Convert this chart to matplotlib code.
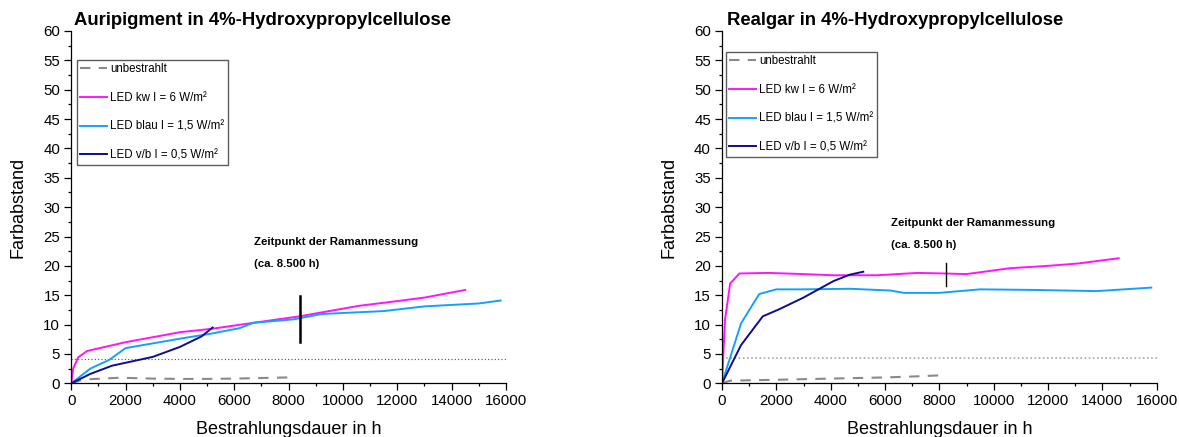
import matplotlib
matplotlib.use("Agg")
import matplotlib.pyplot as plt
from matplotlib.ticker import MultipleLocator

plt.rcParams['font.family'] = ['Liberation Sans', 'DejaVu Sans']

# ---------------- Auripigment ----------------
auri_unbestrahlt_x = [0, 450, 1800, 3000, 4000, 5000, 6000, 7000, 8000]
auri_unbestrahlt_y = [0, 0.65, 0.95, 0.8, 0.75, 0.75, 0.8, 0.9, 1.0]
auri_kw_x = [0, 70, 250, 580, 2000, 4000, 5200, 6700, 8400, 9000, 10600, 12000, 13000, 14500]
auri_kw_y = [0, 2.5, 4.4, 5.5, 7.0, 8.7, 9.3, 10.3, 11.4, 11.9, 13.2, 14.0, 14.6, 15.9]
auri_blau_x = [0, 700, 1400, 2000, 3000, 4000, 5200, 6200, 6700, 8200, 9200, 11500, 13000, 15000, 15800]
auri_blau_y = [0, 2.5, 4.0, 6.0, 6.8, 7.6, 8.5, 9.4, 10.3, 10.9, 11.8, 12.3, 13.1, 13.6, 14.1]
auri_vb_x = [0, 700, 1500, 2200, 3000, 4000, 4800, 5200]
auri_vb_y = [0, 1.6, 3.0, 3.7, 4.5, 6.2, 8.0, 9.5]

# ---------------- Realgar ----------------
real_unbestrahlt_x = [0, 300, 2000, 4000, 6000, 7000, 8000]
real_unbestrahlt_y = [0, 0.45, 0.6, 0.8, 1.0, 1.15, 1.35]
real_kw_x = [0, 110, 300, 640, 1700, 3000, 4100, 5700, 7200, 8200, 9000, 10600, 12000, 13100, 14600]
real_kw_y = [0, 10.8, 17.0, 18.7, 18.8, 18.6, 18.4, 18.4, 18.8, 18.7, 18.6, 19.6, 20.0, 20.4, 21.3]
real_blau_x = [0, 700, 1370, 2000, 3000, 4700, 6200, 6700, 8000, 9500, 11500, 13800, 15800]
real_blau_y = [0, 10.2, 15.2, 16.0, 16.0, 16.1, 15.8, 15.4, 15.4, 16.0, 15.9, 15.7, 16.3]
real_vb_x = [0, 700, 1500, 2100, 3000, 4100, 4700, 5200]
real_vb_y = [0, 6.5, 11.4, 12.6, 14.6, 17.4, 18.5, 19.0]

titles = ["Auripigment in 4%-Hydroxypropylcellulose", "Realgar in 4%-Hydroxypropylcellulose"]
labels = ["unbestrahlt", "LED kw I = 6 W/m²", "LED blau I = 1,5 W/m²", "LED v/b I = 0,5 W/m²"]
threshold = [4.2, 4.3]
raman_x = [8400, 8250]
raman_span = [(7.1, 14.9), (16.6, 20.5)]
raman_text_pos = [(6725, 24.1, 20.3), (6220, 27.3, 23.5)]

C_GREY = '#8a8a8a'
C_KW = '#ff14ff'
C_BLAU = '#14a0ff'
C_VB = '#0d0d8f'

W, H = 1179, 437
fig = plt.figure(figsize=(W / 100, H / 100), dpi=100)

def px_axes(x0, x1, y_top, y_bot):
    return [x0 / W, 1 - y_bot / H, (x1 - x0) / W, (y_bot - y_top) / H]

ax_l = fig.add_axes(px_axes(71.3, 506.0, 31.0, 383.3))
ax_r = fig.add_axes(px_axes(722.0, 1156.7, 31.0, 383.3))

data = [
    (auri_unbestrahlt_x, auri_unbestrahlt_y, auri_kw_x, auri_kw_y, auri_blau_x, auri_blau_y, auri_vb_x, auri_vb_y),
    (real_unbestrahlt_x, real_unbestrahlt_y, real_kw_x, real_kw_y, real_blau_x, real_blau_y, real_vb_x, real_vb_y),
]
dot_style = [dict(color='#505050', lw=0.8, ls=(0, (1, 2))), dict(color='#a8a8a8', lw=1.2, ls=(0, (1, 1.5)))]
raman_lw = [1.8, 1.0]
legend_anchor = [(0.0124, 0.918), (0.0085, 0.941)]
title_px = [(74, 25), (727.3, 25)]

for i, ax in enumerate([ax_l, ax_r]):
    ux, uy, kx, ky, bx, by, vx, vy = data[i]
    ax.axhline(threshold[i], **dot_style[i], zorder=1)
    h0, = ax.plot(ux, uy, color=C_GREY, lw=1.5, ls=(0, (5, 4)), label=labels[0])
    h1, = ax.plot(kx, ky, color=C_KW, lw=1.4, label=labels[1])
    h2, = ax.plot(bx, by, color=C_BLAU, lw=1.4, label=labels[2])
    h3, = ax.plot(vx, vy, color=C_VB, lw=1.4, label=labels[3])
    ax.plot([raman_x[i], raman_x[i]], raman_span[i], color='black', lw=raman_lw[i])
    tx, ty1, ty2 = raman_text_pos[i]
    ax.text(tx, ty1, "Zeitpunkt der Ramanmessung", fontsize=8.2, fontweight='bold', va='center', ha='left')
    ax.text(tx, ty2, "(ca. 8.500 h)", fontsize=8.2, fontweight='bold', va='center', ha='left')

    ax.set_xlim(0, 16000)
    ax.set_ylim(0, 60)
    ax.xaxis.set_major_locator(MultipleLocator(2000))
    ax.xaxis.set_minor_locator(MultipleLocator(1000))
    ax.yaxis.set_major_locator(MultipleLocator(5))
    ax.yaxis.set_minor_locator(MultipleLocator(2.5))
    ax.spines['top'].set_visible(False)
    ax.spines['right'].set_visible(False)
    for s in ('left', 'bottom'):
        ax.spines[s].set_linewidth(0.9)
    ax.tick_params(which='major', direction='out', length=5, width=0.9, labelsize=10.8, pad=3)
    ax.tick_params(which='minor', direction='out', length=2.5, width=0.9)
    ax.set_xlabel("Bestrahlungsdauer in h", fontsize=13, labelpad=9)
    ax.set_ylabel("Farbabstand", fontsize=13, labelpad=12)

    leg = ax.legend(handles=[h0, h1, h2, h3], loc='upper left', bbox_to_anchor=legend_anchor[i],
                    fontsize=8.3, frameon=True, fancybox=False, borderpad=0.3,
                    labelspacing=1.45, handlelength=2.35, handletextpad=0.28, borderaxespad=0)
    leg.get_frame().set_edgecolor('#333333')
    leg.get_frame().set_linewidth(1.0)

    fx, fy = title_px[i]
    fig.text(fx / W, 1 - fy / H, titles[i], fontsize=13.3, fontweight='bold', ha='left', va='baseline')

fig.savefig("out.png", dpi=100)
